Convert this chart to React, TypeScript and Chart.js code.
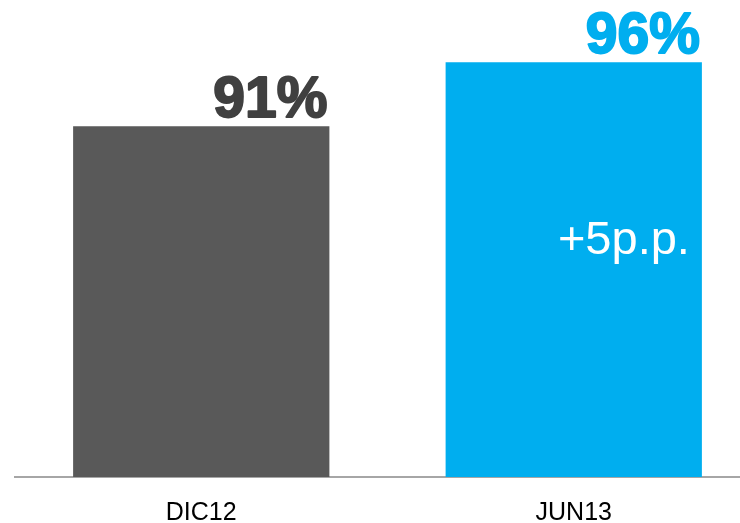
import React, { useEffect, useRef } from "react";
import { Chart, registerables } from "chart.js";

Chart.register(...registerables);

const categories = ["DIC12", "JUN13"];
const values = [91, 96];
const valueLabels = ["91%", "96%"];
const changeLabel = "+5p.p.";
const barColors = ["#595959", "#00AEEF"];
const labelColors = ["#404040", "#00AEEF"];
const yMin = 63.6;
const yMax = 100;

const labelPlugin = {
  id: "valueLabels",
  afterDatasetsDraw(chart: any) {
    const ctx = chart.ctx;
    const meta = chart.getDatasetMeta(0);
    ctx.save();
    meta.data.forEach((bar: any, i: number) => {
      const right = bar.x + bar.width / 2;
      ctx.font = "bold 57px 'Liberation Sans', Arial, sans-serif";
      ctx.fillStyle = labelColors[i];
      ctx.strokeStyle = labelColors[i];
      ctx.lineWidth = 2;
      ctx.lineJoin = "round";
      ctx.textAlign = "right";
      ctx.textBaseline = "alphabetic";
      ctx.strokeText(valueLabels[i], right - 2, bar.y - 9);
      ctx.fillText(valueLabels[i], right - 2, bar.y - 9);
    });
    const last = meta.data[meta.data.length - 1];
    ctx.font = "47px 'Liberation Sans', Arial, sans-serif";
    ctx.fillStyle = "#ffffff";
    ctx.textAlign = "right";
    ctx.fillText(changeLabel, last.x + last.width / 2 - 12, last.y + 192);
    ctx.restore();
  },
};

export default function App() {
  const ref = useRef<HTMLCanvasElement>(null);
  useEffect(() => {
    const chart = new Chart(ref.current as HTMLCanvasElement, {
      type: "bar",
      data: {
        labels: categories,
        datasets: [
          {
            data: values,
            backgroundColor: barColors,
            barPercentage: 0.688,
            categoryPercentage: 1,
          },
        ],
      },
      options: {
        animation: false,
        responsive: false,
        layout: { padding: { left: 15, right: 0, top: 11, bottom: 0 } },
        plugins: { legend: { display: false }, tooltip: { enabled: false } },
        scales: {
          x: {
            grid: { display: false, drawTicks: false },
            border: { display: true, color: "#a6a6a6", width: 2 },
            ticks: {
              color: "#000000",
              padding: 21,
              font: { family: "'Liberation Sans', Arial, sans-serif", size: 25 },
            },
            afterFit: (scale: any) => {
              scale.height = 46;
            },
          },
          y: {
            display: false,
            min: yMin,
            max: yMax,
          },
        },
      },
      plugins: [labelPlugin],
    });
    return () => chart.destroy();
  }, []);
  return (
    <div
      style={{
        position: "fixed",
        left: 0,
        top: 0,
        width: 740,
        height: 523,
        overflow: "hidden",
        background: "#ffffff",
      }}
    >
      <canvas ref={ref} width={760} height={523} style={{ display: "block" }} />
    </div>
  );
}
